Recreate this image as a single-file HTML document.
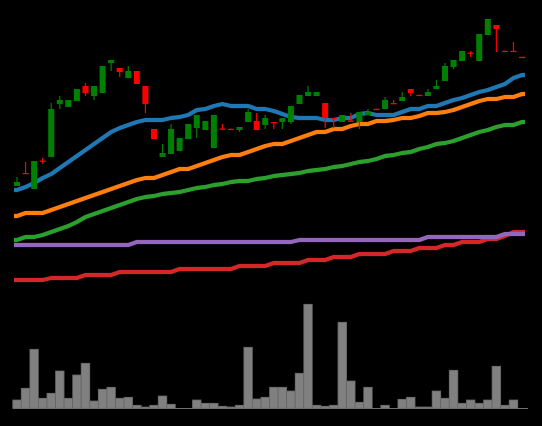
<!DOCTYPE html>
<html><head><meta charset="utf-8"><style>
html,body{margin:0;padding:0;background:#000;}
svg{display:block;}
</style></head><body>
<svg id="chart" width="542" height="426" viewBox="0 0 542 426" xmlns="http://www.w3.org/2000/svg">
<rect x="0" y="0" width="542" height="426" fill="#000"/>
<g id="vol"></g>
<g id="lines"></g>
<g id="candles"></g>
</svg>
<script>
const opens=[114,127,111,139.5,143,196,193,199,214,204,207,237,232,222,229,214,171,143,146,149,161,172,170,152,171.5,171.2,170,178,179,175,178,178,178,196,204,204,197,182,178,179.5,178,185,191.2,191,197,199,211,205.2,204,211,219,233,239,247.5,239,265,275,249.2,249.2,243.2];
const closes=[118,126,139,138.5,191,200,200,211,207,214,234,240,228,229,216,196,161,147,171,162,176,185,179,185,171,170.8,173,188,170,182,177.5,182,194,205,208,208,182,181,185,179,188,188,190.8,200,196.6,203,207,204.8,208,214,234,240,249,246.5,266,281,271,248.8,248.8,242.8];
const highs=[123,138,139,142,197,204,200,211,217,214,234,240,232,234,229,214,171,156,176,162,176,185,179,185,176,171.2,173,191,187,185,178,182,194,205,214,208,197,182,185,187,188,191,191.2,203,200,208,211,205.2,211,220,237,240,249,249,266,281,275,249.2,258,243.2];
const lows=[114,126,111,136,143,191,193,199,204,200,207,229,223,222,216,187,161,143,146,149,161,162,170,152,171,170.8,168,178,170,171,171,171,176,196,204,204,172,172,178,179,171,185,190.8,191,196.6,199,204,204.8,204,211,219,231,239,243,239,265,248,248.8,248.8,242.8];
const volumes=[8.3,20,59,10,15,37.3,10,33.3,45,7.3,19,21,10,11,3,1.3,3,12.3,4,0,0,8.3,5,5,2,1.3,3,61,9.3,11,21,21,17.3,35,104,3,2,3,86,27.3,6,21,0,3,0,9,11,1.3,1.3,17.3,10,38,5,8.3,5,8.3,42,3,8.3,0];
const maBlue=[110,113,117,122,126,132,138,144,150,156,162,168,172,175,178,180,180,180,182,183,185,190,191,194,196,194,194,194,191,191,189,186,183,182,182,182,180,180,182,182,186,187,185,185,185,188,191,191,194,194,197,200,202,205,208,210,213,216,222,225];
const maOrange=[84,87,87,87,90,93,96,99,102,105,108,111,114,117,120,122,122,125,128,131,131,134,137,140,143,145,145,148,151,154,156,156,159,162,165,168,168,171,171,174,176,176,179,179,180,182,182,184,187,187,188,190,193,196,199,201,201,203,203,206];
const maGreen=[60,63,63,65,68,71,74,78,83,86,89,92,95,98,101,103,104,106,107,108,110,112,113,115,116,118,119,119,121,122,124,125,126,127,129,130,131,133,134,136,138,139,141,144,145,147,148,151,153,156,157,159,162,165,168,170,173,175,175,178];
const maPurple=[55,55,55,55,55,55,55,55,55,55,55,55,55,55,58,58,58,58,58,58,58,58,58,58,58,58,58,58,58,58,58,58,58,60,60,60,60,60,60,60,60,60,60,60,60,60,60,60,63,63,63,63,63,63,63,63,63,66,66,66];
const maRed=[20,20,20,20,22,22,22,22,25,25,25,25,28,28,28,28,28,28,28,31,31,31,31,31,31,31,34,34,34,34,37,37,37,37,40,40,40,43,43,43,46,46,46,46,49,49,49,52,52,52,55,55,58,58,58,61,61,64,68,68];

const NS='http://www.w3.org/2000/svg';
const step=8.56;
function xScale(i){return 17+step*i;}
function yPrice(p){return 300-p;}
function yVol(v){return 408.3-v;}
function mk(tag,attrs,parent){const e=document.createElementNS(NS,tag);for(const k in attrs)e.setAttribute(k,attrs[k]);parent.appendChild(e);return e;}

const gv=document.getElementById('vol');
volumes.forEach((v,i)=>{
  const r=mk('rect',{x:xScale(i)-step/2,y:yVol(v),width:step,height:Math.max(0,408.3-yVol(v)),fill:'#808080',stroke:'#646464','stroke-width':0.8},gv);
  
  
});
const base=mk('line',{x1:13,x2:528,y1:408.5,y2:408.5,stroke:'#707070','stroke-width':1},gv);



const gl=document.getElementById('lines');
[[maRed,'#d62728','ma-red'],[maPurple,'#9467bd','ma-purple'],[maGreen,'#2ca02c','ma-green'],[maOrange,'#ff7f0e','ma-orange'],[maBlue,'#1f77b4','ma-blue']].forEach(([arr,col,name])=>{
  const n=arr.length;
  const pts=[(xScale(0)-3)+','+yPrice(arr[0])].concat(arr.map((v,i)=>xScale(i)+','+yPrice(v))).concat([(xScale(n-1)+3)+','+yPrice(arr[n-1])]).join(' ');
  const pl=mk('polyline',{points:pts,fill:'none',stroke:col,'stroke-width':4.2,'stroke-linejoin':'round'},gl);
  
  
});

const gc=document.getElementById('candles');
opens.forEach((o,i)=>{
  const c=closes[i],up=c>=o,col=up?'#008000':'#ff0000';
  const x=xScale(i);
  const w=mk('line',{x1:x,x2:x,y1:yPrice(highs[i]),y2:yPrice(lows[i]),stroke:col,'stroke-width':1.2},gc);
  
  
  const top=yPrice(Math.max(o,c)),bot=yPrice(Math.min(o,c));
  const h=Math.max(1.3,bot-top);
  const b=mk('rect',{x:x-3,y:top,width:6,height:h,fill:col},gc);
  
  
});
</script>
</body></html>
